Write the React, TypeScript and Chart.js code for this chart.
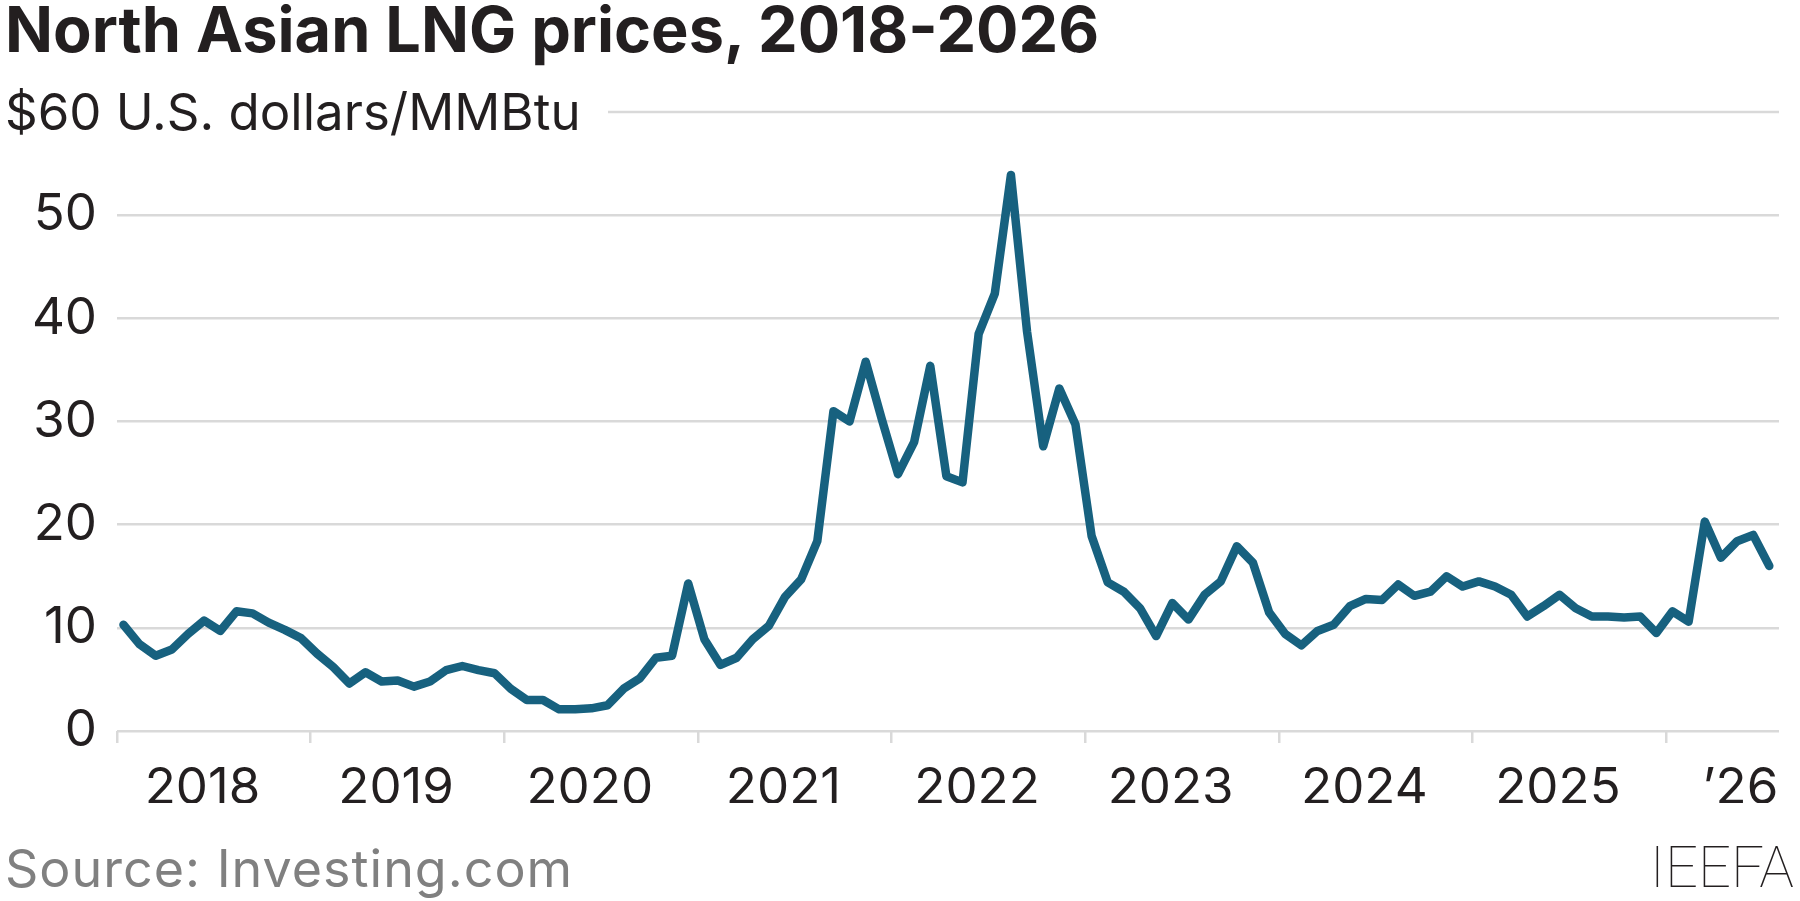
import React, { useEffect, useRef } from 'react';
import { Chart, registerables } from 'chart.js';

Chart.register(...registerables);

// ---- Data (monthly North Asian LNG price, US$/MMBtu) ----
const YEAR_STARTS = [2018, 2019, 2020, 2021, 2022, 2023, 2024, 2025, 2026];
const YEAR_LABELS = ['2018', '2019', '2020', '2021', '2022', '2023', '2024', '2025', '\u201926'];
const Y_TICKS = [0, 10, 20, 30, 40, 50, 60];

const prices2018 = [10.3, 8.4, 7.3, 7.9, 9.4, 10.7, 9.7, 11.6, 11.4, 10.5, 9.8, 9.0];
const prices2019 = [7.5, 6.2, 4.6, 5.7, 4.8, 4.9, 4.3, 4.8, 5.9, 6.3, 5.9, 5.6];
const prices2020 = [4.1, 3.0, 3.0, 2.1, 2.1, 2.2, 2.5, 4.1, 5.1, 7.1, 7.3, 14.3];
const prices2021 = [8.9, 6.4, 7.1, 8.9, 10.2, 13.0, 14.7, 18.4, 31.0, 30.0, 35.8, 30.2];
const prices2022 = [24.9, 28.0, 35.4, 24.7, 24.1, 38.5, 42.4, 53.9, 38.7, 27.6, 33.2, 29.7];
const prices2023 = [18.9, 14.4, 13.5, 11.9, 9.2, 12.4, 10.8, 13.2, 14.5, 17.9, 16.3, 11.5];
const prices2024 = [9.4, 8.3, 9.7, 10.3, 12.1, 12.8, 12.7, 14.2, 13.1, 13.5, 15.0, 14.0];
const prices2025 = [14.5, 14.0, 13.2, 11.1, 12.1, 13.2, 11.9, 11.1, 11.1, 11.0, 11.1, 9.5];
const prices2026 = [11.6, 10.6, 20.3, 16.8, 18.4, 19.0, 16.0];

const PRICES_BY_YEAR = [
  prices2018, prices2019, prices2020, prices2021, prices2022,
  prices2023, prices2024, prices2025, prices2026,
];

const TITLE = 'North Asian LNG prices, 2018-2026';
const SUBTITLE = '$60 U.S. dollars/MMBtu';
const SOURCE = 'Source: Investing.com';
const BRAND = 'IEEFA';

const LINE_COLOR = '#17617f';
const GRID_COLOR = '#d9d9d9';
const TEXT_COLOR = '#231f20';
const FONT = 'Inter, "Noto Sans", sans-serif';

// month index (0 = Jan 2018) -> x value
const points = PRICES_BY_YEAR.flatMap((arr, yi) =>
  arr.map((v, mi) => ({ x: yi * 12 + mi + 0.4, y: v }))
);
const X_MAX = 103;

export default function App() {
  const canvasRef = useRef<HTMLCanvasElement | null>(null);

  useEffect(() => {
    const canvas = canvasRef.current;
    if (!canvas) return;

    const partialTopGrid = {
      id: 'partialTopGrid',
      beforeDatasetsDraw(chart: any) {
        const { ctx, chartArea, scales } = chart;
        const y = scales.y.getPixelForValue(60);
        ctx.save();
        ctx.strokeStyle = GRID_COLOR;
        ctx.lineWidth = 2.5;
        ctx.beginPath();
        ctx.moveTo(608, y);
        ctx.lineTo(chartArea.right, y);
        ctx.stroke();
        ctx.restore();
      },
    };

    const chart = new Chart(canvas, {
      type: 'line',
      data: {
        datasets: [
          {
            data: points,
            borderColor: LINE_COLOR,
            borderWidth: 8.5,
            pointRadius: 0,
            tension: 0,
            borderJoinStyle: 'round',
            borderCapStyle: 'round',
            fill: false,
          },
        ],
      },
      options: {
        animation: false,
        responsive: false,
        devicePixelRatio: 1,
        layout: { padding: { left: 0, right: 21, top: 112, bottom: 98 } },
        plugins: { legend: { display: false }, tooltip: { enabled: false }, title: { display: false } },
        scales: {
          x: {
            type: 'linear',
            position: 'bottom',
            weight: 0,
            min: 0,
            max: X_MAX,
            afterBuildTicks: (scale: any) => {
              scale.ticks = YEAR_STARTS.map((_, i) => ({ value: i * 12 }));
            },
            afterFit: (scale: any) => {
              scale.height = 12;
            },
            grid: {
              drawOnChartArea: false,
              drawTicks: true,
              tickLength: 12,
              color: GRID_COLOR,
              lineWidth: 2.5,
            },
            border: { display: false },
            ticks: { display: false },
          },
          x2: {
            type: 'linear',
            position: 'bottom',
            weight: 1,
            min: 0,
            max: X_MAX,
            afterBuildTicks: (scale: any) => {
              scale.ticks = YEAR_LABELS.map((_, i) => ({
                value: i < 8 ? i * 12 + 5.3 : 100.6,
              }));
            },
            afterFit: (scale: any) => {
              scale.height = 60;
            },
            grid: { display: false, drawTicks: false },
            border: { display: false },
            ticks: {
              autoSkip: false,
              maxRotation: 0,
              padding: 15,
              color: TEXT_COLOR,
              font: { family: FONT, size: 51 },
              callback: (_v: any, i: number) => YEAR_LABELS[i],
            },
          },
          y: {
            type: 'linear',
            min: 0,
            max: 60,
            afterBuildTicks: (scale: any) => {
              scale.ticks = Y_TICKS.map((v) => ({ value: v }));
            },
            afterFit: (scale: any) => {
              scale.width = 117;
            },
            grid: {
              drawTicks: false,
              lineWidth: 2.5,
              color: (c: any) => (c.tick && c.tick.value === 60 ? 'rgba(0,0,0,0)' : GRID_COLOR),
            },
            border: { display: false },
            ticks: {
              padding: 20,
              color: TEXT_COLOR,
              font: { family: FONT, size: 51 },
              callback: (v: any) => (v === 60 ? '' : String(v)),
            },
          },
        },
      },
      plugins: [partialTopGrid],
    } as any);

    return () => chart.destroy();
  }, []);

  const base: React.CSSProperties = {
    position: 'absolute',
    margin: 0,
    whiteSpace: 'nowrap',
    fontFamily: FONT,
    lineHeight: 1,
  };

  return (
    <div style={{ position: 'absolute', left: 0, top: 0, width: 1800, height: 901, background: '#fff' }}>
      <canvas ref={canvasRef} width={1800} height={901} style={{ position: 'absolute', left: 0, top: 0 }} />
      <div style={{ ...base, left: 5, top: -2, fontSize: 63, fontWeight: 700, color: TEXT_COLOR }}>{TITLE}</div>
      <div style={{ ...base, left: 5, top: 86, fontSize: 51, fontWeight: 400, color: TEXT_COLOR }}>{SUBTITLE}</div>
      <div style={{ ...base, left: 5, top: 843, fontSize: 52, fontWeight: 400, letterSpacing: 1, color: '#808080' }}>{SOURCE}</div>
      <div style={{ ...base, right: 6, top: 838, fontSize: 58, fontWeight: 100, color: TEXT_COLOR, fontFamily: 'Roboto, sans-serif' }}>{BRAND}</div>
    </div>
  );
}
